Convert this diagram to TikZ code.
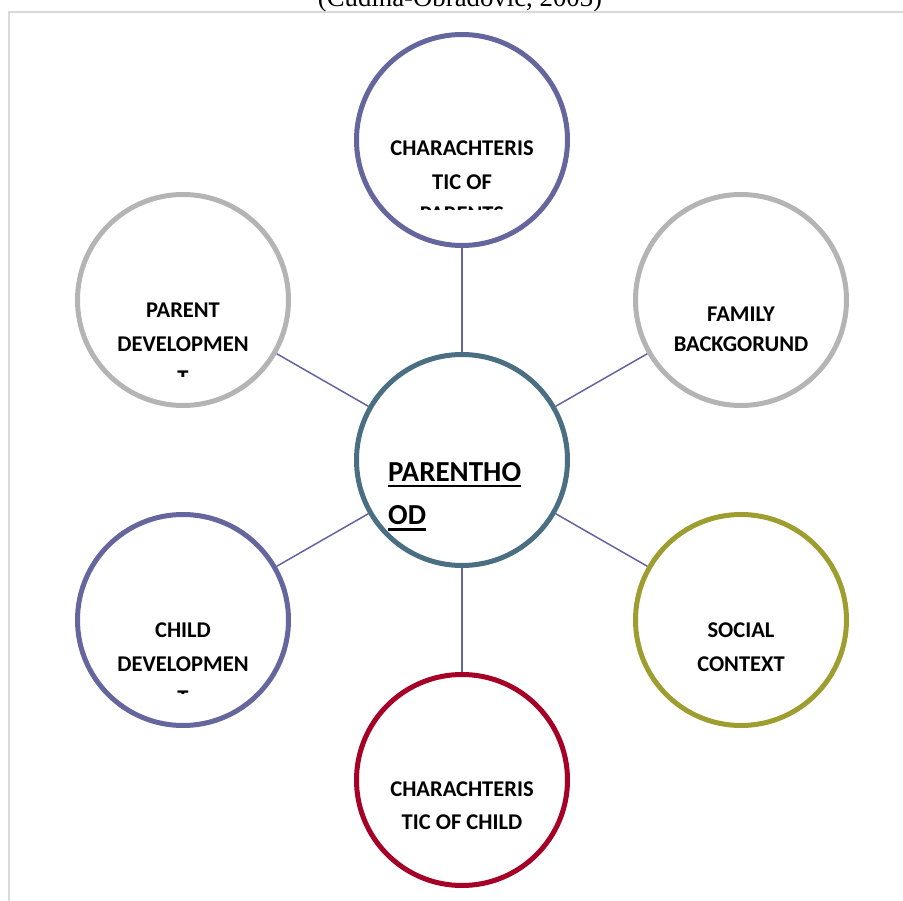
\documentclass[tikz,border=0pt]{standalone}
\usepackage{fontspec}
\setmainfont{Carlito}
\newfontfamily\titlefont{Liberation Serif}
\definecolor{cPurple}{RGB}{102,102,158}
\definecolor{cGrey}{RGB}{180,180,180}
\definecolor{cHub}{RGB}{74,110,130}
\definecolor{cRed}{RGB}{166,0,38}
\definecolor{cOlive}{RGB}{158,158,48}
\definecolor{cLink}{RGB}{100,100,160}
\definecolor{cFrame}{RGB}{217,217,217}
\newcommand\hubline[1]{\setbox0\hbox{#1}\rlap{\rule[-6.5pt]{\wd0}{2.5pt}}#1}
\begin{document}
\begin{tikzpicture}[x=1pt,y=-1pt,
	ring/.style={circle,draw=#1,fill=white,line width=5pt,minimum size=211pt,inner sep=0pt},
	word/.style={anchor=base,inner sep=0pt,font=\bfseries\fontsize{22.5}{27}\selectfont},
	link/.style={draw=cLink,line width=1.5pt}]
	\useasboundingbox (0,0) rectangle (903,901);
	
	% frame and cut-off caption
	\draw[cFrame,line width=2pt] (903,12) -- (9,12) -- (9,901);
	\begin{scope}
		\clip (0,0) rectangle (903,11);
		\node[anchor=base,inner sep=0pt,font=\titlefont\fontsize{26.8}{30}\selectfont] (cap) at (460,6.5) {(Cudina-Obradovic, 2003)};
	\end{scope}
	
	\node[ring=cHub] at (462,460) (hub) {};
	\node[ring=cPurple] at (462,140) (parents) {};
	\node[ring=cGrey] at (183,300) (parentdev) {};
	\node[ring=cGrey] at (741,300) (family) {};
	\node[ring=cPurple] at (183,620) (childdev) {};
	\node[ring=cOlive] at (741,620) (social) {};
	\node[ring=cRed] at (462,780) (childchar) {};
	
	\foreach \n in {parents,parentdev,family,childdev,social,childchar}{
		\path[link] (hub) -- (\n);
	}
	
	% texts
	\node[word] at (462,156) (t1) {CHARACHTERIS};
	\node[word] at (462,190) (t2) {TIC OF};
	\begin{scope}
		\clip (300,0) rectangle (620,210);
		\node[word] at (462,222) (t3) {PARENTS};
	\end{scope}
	
	\node[word] at (183,318) (p1) {PARENT};
	\node[word] at (183,352) (p2) {DEVELOPMEN};
	\begin{scope}
		\clip (60,0) rectangle (300,377);
		\node[word] at (183,386) (p3) {T};
	\end{scope}
	
	\node[word] at (741,322) (f1) {FAMILY};
	\node[word] at (741,352) (f2) {BACKGORUND};
	
	\node[anchor=base west,inner sep=0pt,font=\bfseries\fontsize{29}{34}\selectfont] at (388,481) (h1) {\hubline{PARENTHO}};
	\node[anchor=base west,inner sep=0pt,font=\bfseries\fontsize{29}{34}\selectfont] at (388,524) (h2) {\hubline{OD}};
	
	\node[word] at (183,637) (c1) {CHILD};
	\node[word] at (183,671) (c2) {DEVELOPMEN};
	\begin{scope}
		\clip (60,0) rectangle (300,693);
		\node[word] at (183,705) (c3) {T};
	\end{scope}
	
	\node[word] at (741,637) (s1) {SOCIAL};
	\node[word] at (741,671) (s2) {CONTEXT};
	
	\node[word] at (462,796) (k1) {CHARACHTERIS};
	\node[word] at (462,829) (k2) {TIC OF CHILD};
	
\end{tikzpicture}
\end{document}
